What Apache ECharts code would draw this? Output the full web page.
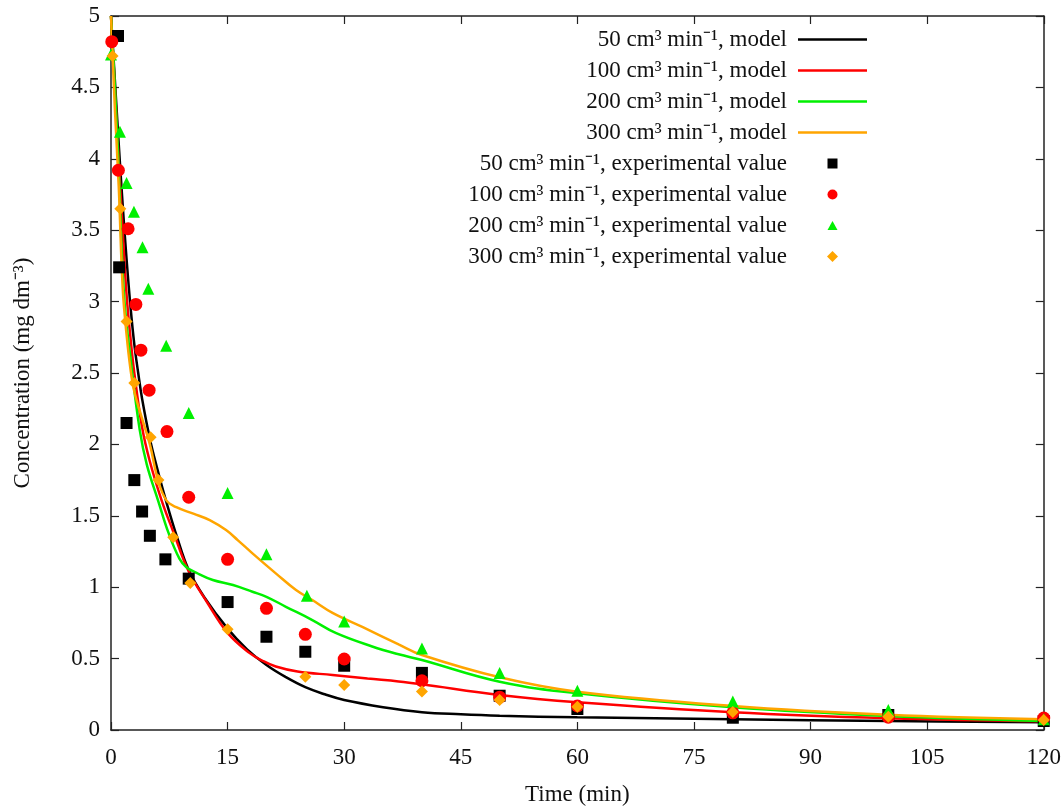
<!DOCTYPE html>
<html><head><meta charset="utf-8">
<script src="https://cdn.jsdelivr.net/npm/echarts@6/dist/echarts.min.js"></script>
<style>html,body{margin:0;padding:0;background:#fff}#c{width:1064px;height:811px}</style>
</head><body><div id="c"></div>
<script>
const FONT = 'Liberation Serif';
const xTicks = [0, 15, 30, 45, 60, 75, 90, 105, 120];
const yTicks = [0, 0.5, 1, 1.5, 2, 2.5, 3, 3.5, 4, 4.5, 5];

const model50 = [[0,5],[0.5,4.55],[1,4.1],[1.5,3.68],[2,3.3],[2.5,2.97],[3,2.7],[3.5,2.5],[4,2.32],[5,2.04],[6,1.82],[7,1.62],[8.5,1.35],[10,1.12],[12,0.93],[15,0.71],[17.5,0.565],[20,0.455],[22.5,0.37],[25,0.3],[27.5,0.25],[30,0.21],[35,0.16],[40,0.125],[45,0.11],[50,0.1],[60,0.089],[80,0.075],[100,0.063],[120,0.054]];
const model100 = [[0,5],[0.5,4.5],[1,3.98],[1.5,3.5],[2,3.05],[2.5,2.75],[3,2.5],[4,2.12],[5,1.88],[6.5,1.61],[8,1.39],[10,1.11],[12.3,0.9],[15,0.68],[17.8,0.54],[19.5,0.485],[21.2,0.445],[24,0.41],[28.5,0.385],[33,0.36],[37,0.34],[40,0.32],[50,0.245],[60,0.194],[80,0.124],[100,0.082],[120,0.061]];
const model200 = [[0,5],[0.5,4.5],[1,3.92],[1.67,3.05],[2.65,2.54],[3.7,2.1],[4.6,1.86],[6.1,1.6],[7.4,1.38],[8.8,1.2],[9.7,1.14],[11,1.1],[13.1,1.05],[15.7,1.015],[18.2,0.968],[20,0.933],[22.5,0.863],[25.9,0.77],[28.9,0.68],[33.6,0.585],[37,0.53],[40,0.49],[50,0.338],[60,0.257],[80,0.159],[100,0.098],[120,0.063]];
const model300 = [[0,5],[0.5,4.35],[1,3.8],[1.5,3.1],[2,2.77],[2.5,2.53],[3,2.37],[4,2.18],[5,2.0],[6,1.76],[7.1,1.61],[8.4,1.56],[10.6,1.515],[12.7,1.47],[14.8,1.4],[16.3,1.33],[18.2,1.237],[21.2,1.097],[23.8,0.98],[25.9,0.91],[28.5,0.82],[32.4,0.72],[37,0.6],[40,0.525],[50,0.369],[60,0.268],[80,0.168],[100,0.107],[120,0.075]];

const exp50 = [[0.9,4.86],[1.05,3.24],[2,2.15],[3,1.75],[4,1.53],[5,1.36],[7,1.195],[10,1.06],[15,0.896],[20,0.653],[25,0.548],[30,0.45],[40,0.4],[50,0.24],[60,0.147],[80,0.086],[100,0.105],[120,0.063]];
const exp100 = [[0.1,4.82],[0.95,3.92],[2.2,3.51],[3.2,2.98],[3.85,2.66],[4.9,2.38],[7.2,2.09],[10,1.63],[15,1.195],[20,0.852],[25,0.67],[30,0.497],[40,0.345],[50,0.23],[60,0.168],[80,0.12],[100,0.09],[120,0.084]];
const exp200 = [[0,4.73],[1.15,4.19],[2,3.83],[2.95,3.63],[4.05,3.38],[4.8,3.09],[7.1,2.69],[10,2.22],[15,1.66],[20,1.23],[25.2,0.94],[30,0.76],[40,0.57],[50,0.4],[60,0.275],[80,0.2],[100,0.14],[120,0.075]];
const exp300 = [[0.2,4.72],[1.2,3.65],[2,2.86],[3,2.43],[5.1,2.05],[6.1,1.75],[8,1.35],[10.2,1.03],[15,0.705],[25,0.373],[30,0.315],[40,0.27],[50,0.21],[60,0.163],[80,0.126],[100,0.093],[120,0.07]];

const names = [
  '50 cm³ min⁻¹, model','100 cm³ min⁻¹, model','200 cm³ min⁻¹, model','300 cm³ min⁻¹, model',
  '50 cm³ min⁻¹, experimental value','100 cm³ min⁻¹, experimental value','200 cm³ min⁻¹, experimental value','300 cm³ min⁻¹, experimental value'
];
const colors = ['#000000','#ff0000','#00f000','#ffa500'];
const symbols = ['rect','circle','triangle','diamond'];
const symSizes = [12,13,12,12];
const lineIcon = 'path://M0,0M69,11M0,4.25L69,4.25L69,6.75L0,6.75Z';
const legendIcons = [
  'path://M0,0M69,11M29.5,0.5L39.5,0.5L39.5,10.5L29.5,10.5Z',
  'path://M0,0M69,11M29.5,5.5A5,5,0,1,1,39.5,5.5A5,5,0,1,1,29.5,5.5Z',
  'path://M0,0M69,11M34.5,1L39.5,10L29.5,10Z',
  'path://M0,0M69,11M34.5,0L40,5.5L34.5,11L29,5.5Z'
];
const models = [model50, model100, model200, model300];
const exps = [exp50, exp100, exp200, exp300];

const series = [];
models.forEach((d,i)=>series.push({
  name: names[i], type:'line', data:d, symbol:'none', smooth:0.4,
  lineStyle:{color:colors[i], width:2.5}, itemStyle:{color:colors[i]}, z:2
}));
exps.forEach((d,i)=>series.push({
  name: names[4+i], type:'scatter', data:d, symbol:symbols[i], symbolSize:symSizes[i],
  itemStyle:{color:colors[i], opacity:1}, z:3
}));

const axisLine = {show:true, onZero:false, lineStyle:{color:'#222', width:1.5}};
const tickStyle = {show:true, inside:true, length:8, lineStyle:{color:'#222', width:1.2}};
const chart = echarts.init(document.getElementById('c'));
chart.setOption({
  animation:false,
  backgroundColor:'#fff',
  grid:{left:111, right:17, top:16, bottom:81},
  legend:{
    orient:'vertical', align:'right', right:192, top:23,
    itemWidth:69, itemHeight:11, itemGap:8,
    data: names.map((n,i)=> ({name:n, icon: i<4 ? lineIcon : legendIcons[i-4]})),
    textStyle:{fontFamily:FONT, fontSize:23, color:'#111', lineHeight:23, padding:[0,6,0,0]}
  },
  xAxis:[{
    type:'value', min:0, max:120, interval:15, position:'bottom',
    name:'Time (min)', nameLocation:'middle', nameGap:53,
    nameTextStyle:{fontFamily:FONT, fontSize:23, color:'#111'},
    axisLine:axisLine, axisTick:tickStyle, splitLine:{show:false},
    axisLabel:{fontFamily:FONT, fontSize:23, color:'#111', margin:16}
  },{
    type:'value', min:0, max:120, interval:15, position:'top',
    axisLine:axisLine, axisTick:tickStyle, splitLine:{show:false}, axisLabel:{show:false}
  }],
  yAxis:[{
    type:'value', min:0, max:5, interval:0.5, position:'left',
    name:'Concentration (mg dm⁻³)', nameLocation:'middle', nameGap:77,
    nameTextStyle:{fontFamily:FONT, fontSize:23, color:'#111'},
    axisLine:axisLine, axisTick:tickStyle, splitLine:{show:false},
    axisLabel:{fontFamily:FONT, fontSize:23, color:'#111', margin:11}
  },{
    type:'value', min:0, max:5, interval:0.5, position:'right',
    axisLine:axisLine, axisTick:tickStyle, splitLine:{show:false}, axisLabel:{show:false}
  }],
  series: series
});
</script></body></html>
